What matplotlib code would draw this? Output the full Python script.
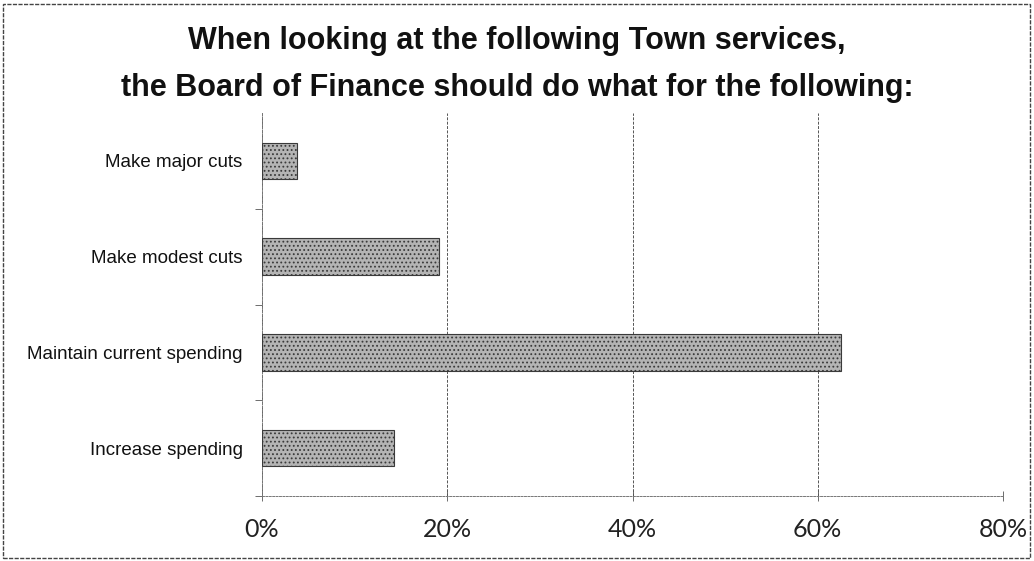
import matplotlib
matplotlib.use("Agg")
import matplotlib.pyplot as plt
from matplotlib.patches import Rectangle
from matplotlib.ticker import FixedLocator

categories = ["Make major cuts", "Make modest cuts", "Maintain current spending", "Increase spending"]
values = [3.8, 19.1, 62.5, 14.3]
xticks = [0, 20, 40, 60, 80]
xtick_labels = ["0%", "20%", "40%", "60%", "80%"]
title_lines = ["When looking at the following Town services,",
               "the Board of Finance should do what for the following:"]

plt.rcParams['hatch.color'] = '#8c8c8c'
plt.rcParams['hatch.linewidth'] = 0.8

fig = plt.figure(figsize=(10.34, 5.61), dpi=100)
ax = fig.add_axes([262/1034, 1-496/561, (1003-262)/1034, (496-113)/561])

ypos = list(range(len(categories)))
ax.barh(ypos, values, height=0.38, color="#b4b4b4", edgecolor="#3a3a3a",
        linewidth=0.8, hatch="....", zorder=3)
ax.set_ylim(len(categories) - 0.5, -0.5)
ax.set_xlim(0, 80)

ax.set_yticks(ypos)
ax.set_yticklabels(categories, fontfamily="Liberation Sans", fontsize=13.5, color="#111111")
ax.yaxis.set_minor_locator(FixedLocator([0.5, 1.5, 2.5, 3.5]))
ax.tick_params(axis="y", which="major", length=0, pad=14)
ax.tick_params(axis="y", which="minor", length=5, width=0.6, color="#555555", direction="out")

ax.set_xticks(xticks)
ax.set_xticklabels(xtick_labels, fontfamily="Lato", fontsize=18, color="#222222")
ax.tick_params(axis="x", length=7, width=0.6, color="#555555", direction="inout", pad=12)

ax.grid(axis="x", color="#555555", linestyle=(0, (3, 1.5)), linewidth=0.7, zorder=0)
for s in ["top", "right"]:
    ax.spines[s].set_visible(False)
for s in ["left", "bottom"]:
    ax.spines[s].set_color("#777777")
    ax.spines[s].set_linestyle((0, (2, 1.5)))
    ax.spines[s].set_linewidth(0.7)

fig.text(0.5, 1-41/561, title_lines[0], ha="center", va="center",
         fontfamily="Liberation Sans", fontweight="bold", fontsize=22, color="#111111")
fig.text(0.5, 1-88/561, title_lines[1], ha="center", va="center",
         fontfamily="Liberation Sans", fontweight="bold", fontsize=22, color="#111111")

fig.patches.append(Rectangle((3/1034, 3/561), 1-7/1034, 1-7/561, transform=fig.transFigure,
                             fill=False, edgecolor="#444444", linewidth=1.0, linestyle=(0, (3, 1))))

fig.savefig("out.png", dpi=100)
